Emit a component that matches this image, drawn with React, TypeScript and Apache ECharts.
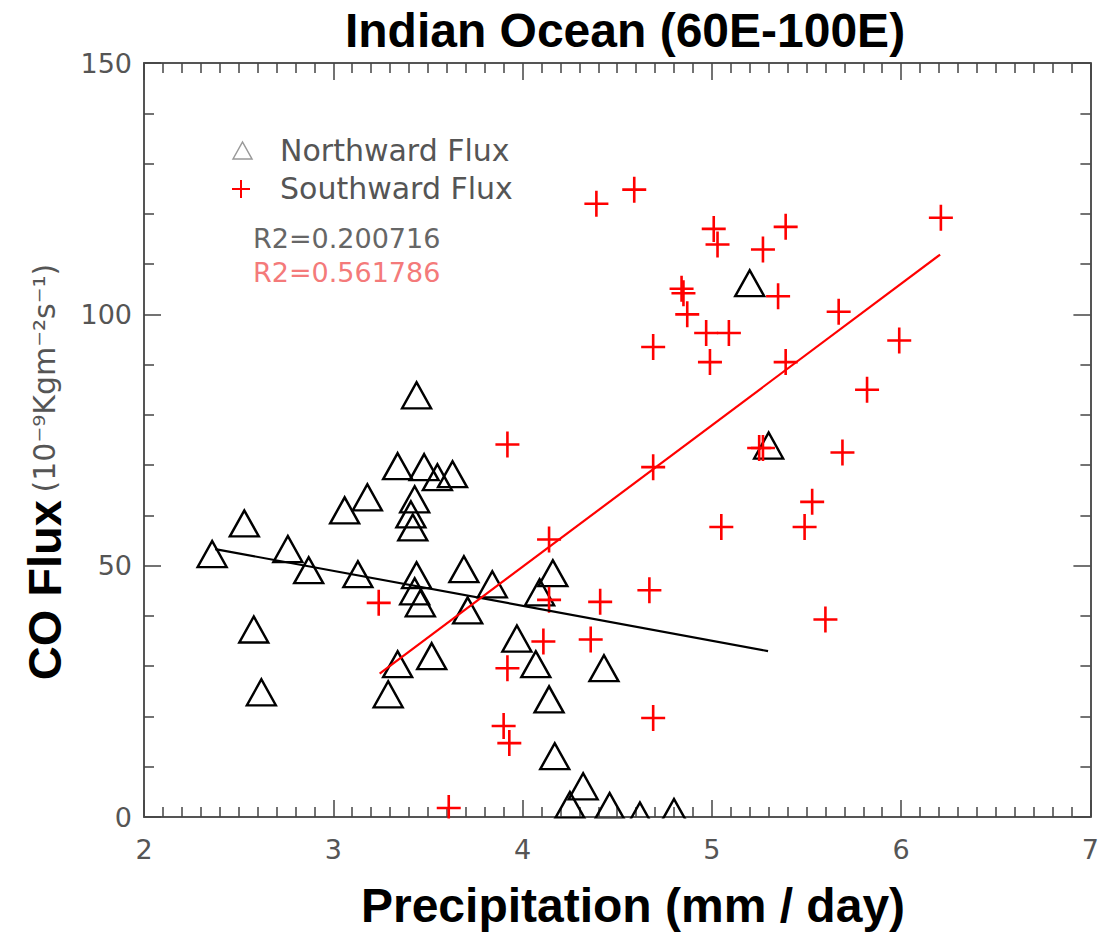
import React, { useEffect, useRef } from "react";
import * as echarts from "echarts";

// Northward flux (triangles): precipitation (mm/day) and CO flux
const northX = [2.36, 2.53, 2.58, 2.62, 2.76, 2.87, 3.06, 3.18, 3.13, 3.34, 3.29, 3.34, 3.44, 3.48, 3.55, 3.63, 3.43, 3.41, 3.42, 3.44, 3.43, 3.46, 3.52, 3.69, 3.71, 3.84, 3.97, 4.07, 4.09, 4.16, 4.14, 4.17, 4.43, 4.32, 4.25, 4.46, 4.62, 4.8, 5.3, 5.2];
const northY = [52.3, 58.4, 37.3, 24.8, 53.3, 49.1, 61.0, 63.6, 48.3, 30.4, 24.4, 69.8, 83.9, 69.6, 67.6, 68.2, 63.2, 60.2, 57.6, 48.1, 44.9, 42.5, 32.0, 49.3, 41.1, 46.3, 35.5, 30.4, 44.7, 48.5, 23.4, 12.1, 29.6, 6.1, 2.4, 2.2, 0.3, 1.0, 73.9, 106.2];

// Southward flux (crosses)
const southX = [3.24, 3.92, 4.14, 4.14, 4.11, 3.92, 3.9, 3.93, 3.61, 4.69, 4.41, 4.67, 4.36, 4.69, 5.05, 5.49, 5.53, 5.69, 5.6, 5.25, 5.27, 4.39, 4.59, 5.01, 5.03, 5.39, 5.27, 6.21, 4.84, 4.85, 4.87, 4.97, 5.09, 4.99, 5.35, 4.69, 5.67, 5.99, 5.39, 5.82];
const southY = [42.6, 74.1, 55.2, 43.2, 34.9, 29.6, 18.1, 14.7, 1.8, 69.6, 42.8, 45.1, 35.3, 19.7, 57.7, 57.7, 62.7, 72.5, 39.3, 73.4, 73.4, 122.0, 124.8, 117.0, 113.9, 117.4, 112.9, 119.2, 105.1, 104.2, 100.0, 96.3, 96.3, 90.5, 103.6, 93.5, 100.5, 94.8, 90.5, 85.0];

// Linear fit lines (end points)
const northFitX = [2.376, 5.297];
const northFitY = [53.3, 33.0];
const southFitX = [3.245, 6.206];
const southFitY = [28.5, 111.9];

const xTicks = ["2", "3", "4", "5", "6", "7"];
const yTicks = ["0", "50", "100", "150"];

const legendNames = ["Northward Flux", "Southward Flux"];
const r2Labels = ["R2=0.200716", "R2=0.561786"];

const TITLE = "Indian Ocean (60E-100E)";
const XNAME = "Precipitation (mm / day)";

const CROSS = "path://M0,11.7H24V14.3H0Z M10.7,0H13.3V26H10.7Z";
const RED = "#ff0000";

function axisBase(position: string, showLabel: boolean, isX: boolean) {
  return {
    type: "value",
    position,
    min: isX ? Number(xTicks[0]) : Number(yTicks[0]),
    max: isX ? Number(xTicks[xTicks.length - 1]) : Number(yTicks[yTicks.length - 1]),
    interval: isX ? 1 : 50,
    axisLine: { show: true, onZero: false, lineStyle: { color: "#555", width: 2 } },
    axisTick: { show: true, inside: true, length: 17, lineStyle: { color: "#444", width: 1.5 } },
    minorTick: { show: true, splitNumber: isX ? 10 : 5, length: 10, lineStyle: { color: "#444", width: 1.5 } },
    splitLine: { show: false },
    minorSplitLine: { show: false },
    axisLabel: {
      show: showLabel,
      fontSize: 27,
      color: "#555",
      fontFamily: "DejaVu Sans",
      margin: isX ? 19 : 12,
    },
  };
}

export default function App() {
  const ref = useRef<HTMLDivElement>(null);
  useEffect(() => {
    if (!ref.current) return;
    const chart = echarts.init(ref.current, null, { renderer: "svg" });
    const north = northX.map((x, i) => [x, northY[i]]);
    const south = southX.map((x, i) => [x, southY[i]]);
    const nFit = northFitX.map((x, i) => [x, northFitY[i]]);
    const sFit = southFitX.map((x, i) => [x, southFitY[i]]);
    chart.setOption({
      animation: false,
      backgroundColor: "#fff",
      grid: { left: 144, right: 5, top: 63, bottom: 116, containLabel: false },
      xAxis: [axisBase("bottom", true, true), axisBase("top", false, true)],
      yAxis: [axisBase("left", true, false), axisBase("right", false, false)],
      series: [
        {
          name: legendNames[0],
          type: "scatter",
          xAxisIndex: 0,
          yAxisIndex: 0,
          data: north,
          symbol: "triangle",
          symbolSize: [29, 26],
          itemStyle: { color: "rgba(0,0,0,0)", borderColor: "#000", borderWidth: 2.4, opacity: 1 },
          z: 2,
        },
        {
          name: legendNames[1],
          type: "scatter",
          xAxisIndex: 0,
          yAxisIndex: 0,
          data: south,
          symbol: CROSS,
          symbolSize: [24, 26],
          itemStyle: { color: RED, opacity: 1 },
          z: 3,
        },
        {
          type: "line",
          data: nFit,
          showSymbol: false,
          symbol: "none",
          lineStyle: { color: "#000", width: 2.2 },
          z: 4,
        },
        {
          type: "line",
          data: sFit,
          showSymbol: false,
          symbol: "none",
          lineStyle: { color: RED, width: 2.2 },
          z: 4,
        },
      ],
      graphic: [
        // mask for marks below the frame (clipping as in the original)
        { type: "rect", z: 100, shape: { x: 146, y: 818.5, width: 950, height: 14 }, style: { fill: "#fff" } },
        {
          type: "text",
          z: 101,
          x: 625,
          y: 30,
          style: {
            text: TITLE,
            fontSize: 48,
            fontWeight: "bold",
            fontFamily: "Liberation Sans, Arial, sans-serif",
            fill: "#000",
            textAlign: "center",
            textVerticalAlign: "middle",
          },
        },
        {
          type: "text",
          z: 101,
          x: 633,
          y: 905,
          style: {
            text: XNAME,
            fontSize: 48,
            fontWeight: "bold",
            fontFamily: "Liberation Sans, Arial, sans-serif",
            fill: "#000",
            textAlign: "center",
            textVerticalAlign: "middle",
          },
        },
        {
          type: "text",
          z: 101,
          x: 44,
          y: 472,
          rotation: Math.PI / 2,
          style: {
            text: "{b|CO Flux}{s| }{n|(10⁻⁹Kgm⁻²s⁻¹)}",
            textAlign: "center",
            textVerticalAlign: "middle",
            rich: {
              b: { fontSize: 47, fontWeight: "bold", fontFamily: "Liberation Sans, Arial, sans-serif", fill: "#000" },
              s: { fontSize: 24, fontFamily: "DejaVu Sans", fill: "#444" },
              n: { fontSize: 30, fontFamily: "DejaVu Sans", fill: "#555" },
            },
          },
        },
        // legend
        {
          type: "polygon",
          z: 101,
          shape: { points: [[233, 159], [242.5, 142], [252, 159]] },
          style: { fill: "none", stroke: "#999", lineWidth: 1.5 },
        },
        { type: "line", z: 101, shape: { x1: 232, y1: 189, x2: 250, y2: 189 }, style: { stroke: RED, lineWidth: 2 } },
        { type: "line", z: 101, shape: { x1: 241, y1: 180, x2: 241, y2: 198 }, style: { stroke: RED, lineWidth: 2 } },
        {
          type: "text",
          z: 101,
          x: 280,
          y: 150,
          style: { text: legendNames[0], fontSize: 30, fontFamily: "DejaVu Sans", fill: "#555", textVerticalAlign: "middle" },
        },
        {
          type: "text",
          z: 101,
          x: 280,
          y: 188,
          style: { text: legendNames[1], fontSize: 30, fontFamily: "DejaVu Sans", fill: "#555", textVerticalAlign: "middle" },
        },
        {
          type: "text",
          z: 101,
          x: 253,
          y: 238,
          style: { text: r2Labels[0], fontSize: 27, fontFamily: "DejaVu Sans", fill: "#666", textVerticalAlign: "middle" },
        },
        {
          type: "text",
          z: 101,
          x: 253,
          y: 272,
          style: { text: r2Labels[1], fontSize: 27, fontFamily: "DejaVu Sans", fill: "#f47a7a", textVerticalAlign: "middle" },
        },
      ],
    });
    return () => chart.dispose();
  }, []);
  return <div ref={ref} style={{ position: "fixed", left: 0, top: 0, width: 1102, height: 933 }} />;
}
